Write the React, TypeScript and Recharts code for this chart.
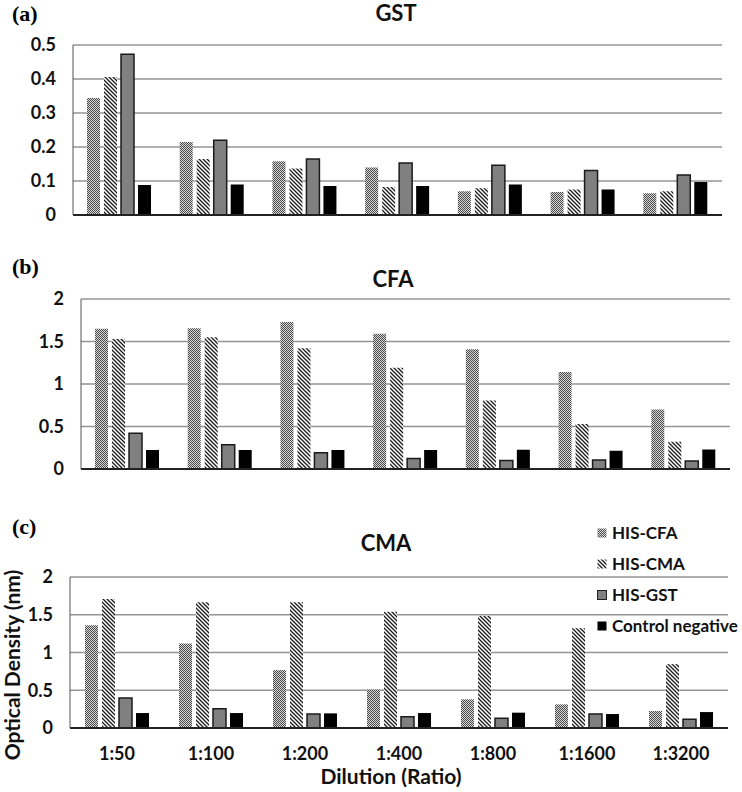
import React from 'react';
import { BarChart, Bar, XAxis, YAxis, CartesianGrid, Legend } from 'recharts';

const dilutions = ['1:50', '1:100', '1:200', '1:400', '1:800', '1:1600', '1:3200'];

// panel (a) GST coated
const gstCFA = [0.344, 0.215, 0.158, 0.14, 0.07, 0.068, 0.064];
const gstCMA = [0.406, 0.165, 0.137, 0.082, 0.079, 0.075, 0.07];
const gstGST = [0.473, 0.22, 0.165, 0.153, 0.146, 0.131, 0.118];
const gstCtrl = [0.088, 0.09, 0.085, 0.085, 0.09, 0.075, 0.097];

// panel (b) CFA coated
const cfaCFA = [1.65, 1.655, 1.73, 1.59, 1.41, 1.14, 0.7];
const cfaCMA = [1.53, 1.55, 1.42, 1.19, 0.806, 0.528, 0.32];
const cfaGST = [0.42, 0.286, 0.19, 0.125, 0.1, 0.105, 0.094];
const cfaCtrl = [0.223, 0.223, 0.223, 0.223, 0.227, 0.215, 0.23];

// panel (c) CMA coated
const cmaCFA = [1.36, 1.12, 0.767, 0.51, 0.38, 0.313, 0.225];
const cmaCMA = [1.71, 1.665, 1.665, 1.54, 1.485, 1.32, 0.846];
const cmaGST = [0.396, 0.255, 0.185, 0.15, 0.128, 0.185, 0.115];
const cmaCtrl = [0.198, 0.198, 0.194, 0.198, 0.203, 0.185, 0.211];

const ticksSmall = [0, 0.1, 0.2, 0.3, 0.4, 0.5];
const ticksLarge = [0, 0.5, 1, 1.5, 2];

const seriesNames = ['HIS-CFA', 'HIS-CMA', 'HIS-GST', 'Control negative'];

const FONT = 'Lato, "Open Sans", sans-serif';

const makeRows = (a: number[], b: number[], c: number[], d: number[]) =>
  dilutions.map((name, i) => ({ name, cfa: a[i], cma: b[i], gst: c[i], ctrl: d[i] }));

const fills = ['url(#checker)', 'url(#stripes)', '#808080', '#000000'];
const keys = ['cfa', 'cma', 'gst', 'ctrl'];

function Patterns() {
  return (
    <svg width={0} height={0} style={{ position: 'absolute' }}>
      <defs>
        <pattern id="checker" width={2} height={2} patternUnits="userSpaceOnUse">
          <rect width={2} height={2} fill="#d8d8d8" />
          <rect x={0} y={0} width={1} height={1} fill="#4a4a4a" />
          <rect x={1} y={1} width={1} height={1} fill="#4a4a4a" />
        </pattern>
        <pattern id="stripes" width={4} height={4} patternUnits="userSpaceOnUse">
          <rect width={4} height={4} fill="#ffffff" />
          <path d="M-1,-1 L5,5 M-1,3 L1,5 M3,-1 L5,1" stroke="#1a1a1a" strokeWidth={1.3} />
        </pattern>
      </defs>
    </svg>
  );
}

function LegendBox() {
  return (
    <div style={{ fontFamily: FONT, fontWeight: 700, fontSize: 17, color: '#111' }}>
      {seriesNames.map((n, i) => (
        <div key={n} style={{ display: 'flex', alignItems: 'center', height: 31 }}>
          <svg width={10} height={10} style={{ marginRight: 5 }}>
            <rect x={0.5} y={0.5} width={9} height={9} fill={fills[i]}
              stroke={i === 2 ? '#222' : 'none'} strokeWidth={i === 2 ? 1 : 0} />
          </svg>
          <span>{n}</span>
        </div>
      ))}
    </div>
  );
}

type PanelProps = {
  rows: ReturnType<typeof makeRows>;
  top: number;
  height: number;
  marginTop: number;
  marginRight: number;
  yWidth: number;
  xHeight: number;
  max: number;
  ticks: number[];
  showX?: boolean;
  legend?: boolean;
};

function Panel(p: PanelProps) {
  const tickStyle = { fontFamily: FONT, fontWeight: 700, fontSize: 18, fill: '#111' };
  return (
    <div style={{ position: 'absolute', top: p.top, left: 0 }}>
      <BarChart
        width={742}
        height={p.height}
        data={p.rows}
        margin={{ top: p.marginTop, right: p.marginRight, bottom: 0, left: 0 }}
        barSize={13}
        barGap={4}
      >
        <CartesianGrid vertical={false} stroke="#959595" strokeWidth={1.5} />
        <XAxis
          dataKey="name"
          height={p.xHeight}
          tickLine={false}
          tick={p.showX ? tickStyle : false}
          tickSize={0}
          tickMargin={19}
          axisLine={{ stroke: '#222', strokeWidth: 2 }}
          interval={0}
        />
        <YAxis
          width={p.yWidth}
          domain={[0, p.max]}
          ticks={p.ticks}
          tickLine={false}
          tickSize={0}
          tickMargin={17}
          tick={tickStyle}
          axisLine={{ stroke: '#555', strokeWidth: 1 }}
          allowDataOverflow
        />
        {keys.map((k, i) => (
          <Bar
            key={k}
            dataKey={k}
            name={seriesNames[i]}
            fill={fills[i]}
            stroke={i === 2 ? '#1a1a1a' : 'none'}
            strokeWidth={i === 2 ? 1.5 : 0}
            isAnimationActive={false}
          />
        ))}
        {p.legend && (
          <Legend
            layout="vertical"
            align="center"
            verticalAlign="middle"
            wrapperStyle={{ left: 597, top: 37, width: 150 }}
            content={() => <LegendBox />}
          />
        )}
      </BarChart>
    </div>
  );
}

const tag = (text: string, left: number, top: number) => (
  <div style={{ position: 'absolute', left, top, fontFamily: '"Liberation Serif", serif', fontWeight: 700, fontSize: 22, lineHeight: 1 }}>
    {text}
  </div>
);

const title = (text: string, cx: number, cy: number, size = 22) => (
  <div style={{ position: 'absolute', left: cx, top: cy, transform: 'translate(-50%, -50%)', fontFamily: FONT, fontWeight: 700, fontSize: size, whiteSpace: 'nowrap', color: '#111' }}>
    {text}
  </div>
);

export default function App() {
  return (
    <div style={{ position: 'absolute', top: 0, left: 0, width: 742, height: 792, background: '#fff', overflow: 'hidden' }}>
      <Patterns />
      <Panel rows={makeRows(gstCFA, gstCMA, gstGST, gstCtrl)} top={0} height={230} marginTop={45}
        marginRight={20} yWidth={73} xHeight={15} max={0.5} ticks={ticksSmall} />
      <Panel rows={makeRows(cfaCFA, cfaCMA, cfaGST, cfaCtrl)} top={230} height={250} marginTop={69}
        marginRight={12} yWidth={81} xHeight={11} max={2} ticks={ticksLarge} />
      <Panel rows={makeRows(cmaCFA, cmaCMA, cmaGST, cmaCtrl)} top={480} height={312} marginTop={97}
        marginRight={14} yWidth={70} xHeight={64} max={2} ticks={ticksLarge} showX legend />
      {tag('(a)', 12, 3)}
      {tag('(b)', 12, 256)}
      {tag('(c)', 12, 516)}
      {title('GST', 396, 12)}
      {title('CFA', 393, 278)}
      {title('CMA', 386, 542)}
      {title('Dilution (Ratio)', 391, 775, 21)}
      <div style={{ position: 'absolute', left: 11, top: 665, transform: 'translate(-50%, -50%) rotate(-90deg)', fontFamily: FONT, fontWeight: 700, fontSize: 21, whiteSpace: 'nowrap', color: '#111' }}>
        Optical Density (nm)
      </div>
    </div>
  );
}
